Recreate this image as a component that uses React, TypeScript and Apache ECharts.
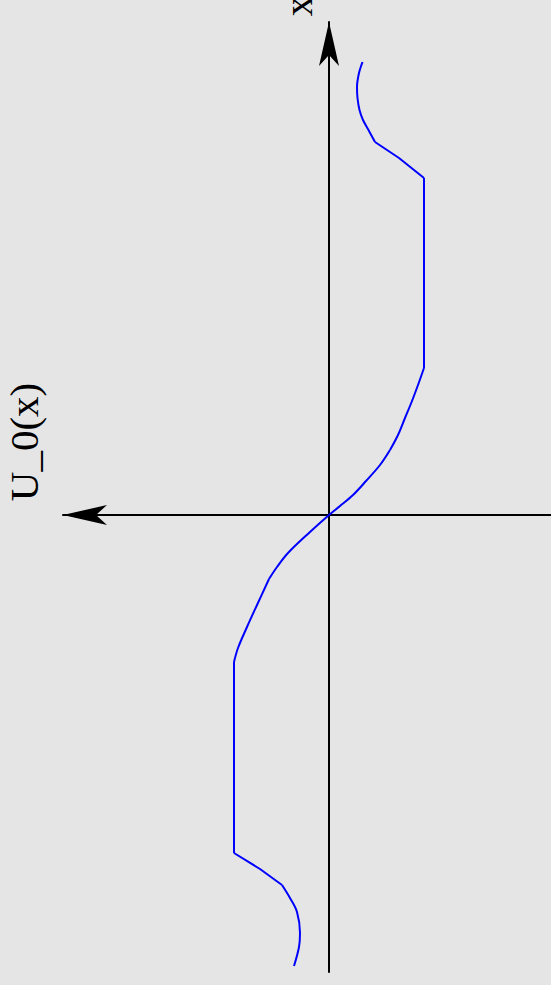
import React, { useEffect, useRef } from "react";
import * as echarts from "echarts";

// Curve samples: position x (vertical axis) and field value U_0(x) (horizontal axis, pointing left)
const xValues = [
  -4.51, -4.32, -4.18, -3.97, -3.83, -3.7, -3.54, -3.38, -1.47, -1.33, -1.12, -0.9,
  -0.64, -0.52, -0.38, -0.17, 0, 0.09, 0.2, 0.34, 0.5, 0.65, 0.8, 0.97, 1.14, 1.3, 1.47,
  3.37, 3.57, 3.73, 3.85, 3.95, 4.05, 4.17, 4.28, 4.42, 4.53,
];
const uValues = [
  0.35, 0.3, 0.29, 0.32, 0.39, 0.47, 0.69, 0.95, 0.95, 0.91, 0.82, 0.72,
  0.6, 0.52, 0.41, 0.19, 0, -0.11, -0.24, -0.37, -0.51, -0.61, -0.69, -0.76, -0.83, -0.89, -0.95,
  -0.95, -0.7, -0.46, -0.395, -0.34, -0.305, -0.285, -0.28, -0.3, -0.335,
];
// Sample indices where the profile has a corner (pieces are smoothed separately)
const cornerIndices = [0, 5, 7, 8, 12, 21, 26, 27, 29, 36];

const uExtent = [-2.22, 2.66];
const xExtent = [-4.57, 4.93];

const uTitle = "U_0(x)";
const xTitle = "x";

const serif = "'Liberation Serif', 'Times New Roman', 'DejaVu Serif', serif";

export default function App() {
  const ref = useRef<HTMLDivElement>(null);

  useEffect(() => {
    if (!ref.current) return;
    const chart = echarts.init(ref.current, null, { renderer: "svg" });

    const axisBase = {
      type: "value" as const,
      axisTick: { show: false },
      axisLabel: { show: false },
      splitLine: { show: false },
    };
    const lineStyle = { color: "#000000", width: 2 };

    const points = xValues.map((x, i) => [uValues[i], x]);
    const pieces = cornerIndices.slice(1).map((end, k) => {
      const start = cornerIndices[k];
      return {
        type: "line" as const,
        data: points.slice(start, end + 1),
        showSymbol: false,
        symbol: "none",
        smooth: end - start > 2 ? 0.35 : false,
        clip: false,
        lineStyle: { color: "#0000ff", width: 2 },
      };
    });

    chart.setOption({
      animation: false,
      backgroundColor: "#e5e5e5",
      grid: { left: 63, right: 0, top: 22, bottom: 13 },
      xAxis: {
        ...axisBase,
        inverse: true,
        min: uExtent[0],
        max: uExtent[1],
        axisLine: {
          show: true,
          onZero: true,
          symbol: ["arrow", "none"],
          symbolSize: [15, 44],
          lineStyle,
        },
      },
      yAxis: {
        ...axisBase,
        min: xExtent[0],
        max: xExtent[1],
        axisLine: {
          show: true,
          onZero: true,
          symbol: ["none", "arrow"],
          symbolSize: [15, 44],
          lineStyle,
        },
      },
      series: pieces,
      graphic: [
        {
          type: "text",
          x: 298,
          y: 6,
          rotation: Math.PI / 2,
          style: {
            text: xTitle,
            font: `41px ${serif}`,
            fill: "#000000",
            align: "center",
            verticalAlign: "middle",
          },
        },
        {
          type: "text",
          x: 24,
          y: 442,
          rotation: Math.PI / 2,
          style: {
            text: uTitle,
            font: `41px ${serif}`,
            fill: "#000000",
            align: "center",
            verticalAlign: "middle",
          },
        },
      ],
    });

    return () => chart.dispose();
  }, []);

  return (
    <div
      ref={ref}
      style={{ position: "fixed", left: 0, top: 0, width: 551, height: 985 }}
    />
  );
}
